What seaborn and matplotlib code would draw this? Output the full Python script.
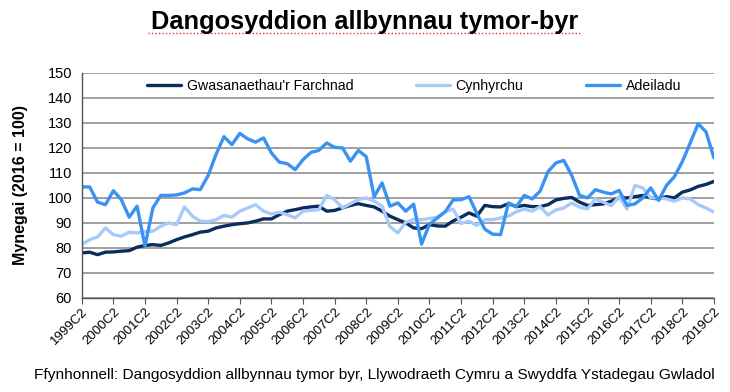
import numpy as np
import pandas as pd
import seaborn as sns
import matplotlib.pyplot as plt
from matplotlib.lines import Line2D

# Chwarteri 1999C2 - 2019C2
chwarteri = []
for b in range(1999, 2020):
    for c in range(1, 5):
        chwarteri.append(f"{b}C{c}")
chwarteri = chwarteri[1:-2]  # 1999C2 .. 2019C2

gwasanaethau = [78, 78.3, 77.3, 78.3, 78.4, 78.7, 78.9, 80.3, 81, 81.3,
                81, 82, 83.3, 84.4, 85.3, 86.3, 86.7, 88, 88.7, 89.3,
                89.7, 90, 90.7, 91.6, 91.6, 93.3, 94.7, 95.3, 96, 96.4,
                96.7, 94.7, 95, 96, 97, 97.7, 97, 96.4, 94.7, 92.7,
                91.3, 90, 88, 87.7, 89.3, 88.8, 88.7, 90.8, 92.3, 94,
                92.7, 97, 96.5, 96.4, 97.7, 96.5, 97, 96.5, 96.5, 97.3,
                99.2, 99.8, 100.2, 98.3, 97, 97.3, 97.6, 98.7, 100, 100,
                100.5, 101, 100, 99.6, 100.5, 100, 102.3, 103.2, 104.6, 105.4,
                106.6]
cynhyrchu = [81.3, 83.3, 84.4, 88, 85.3, 84.7, 86.3, 86, 86.5, 86.7,
             88.7, 90, 89.3, 96.4, 92.7, 90.7, 90.5, 91.3, 93, 92.3,
             94.7, 96, 97.3, 94.7, 93.6, 94.3, 93.3, 92, 94.7, 95,
             95.3, 101, 99.3, 96, 97.7, 99.3, 100, 98.7, 96.7, 88.5,
             86, 90.3, 91.3, 91.3, 91.8, 92.3, 94.5, 95.5, 89.8, 90.7,
             89, 91.3, 91.3, 92, 92.7, 94.5, 95.5, 94.7, 96.5, 93.2,
             95.2, 96, 98, 96.3, 95.6, 99.6, 98.3, 96.9, 100.5, 95.6,
             105, 104, 100, 100, 99.6, 98.7, 100, 99.6, 97.3, 96,
             94.3]
adeiladu = [104.4, 104.4, 98.3, 97.3, 102.9, 99.3, 92.3, 96.7, 80.7, 96,
            101, 101, 101.2, 102, 103.6, 103.3, 109, 117.5, 124.5, 121.3,
            125.8, 123.6, 122.3, 124, 118, 114.3, 113.7, 111.3, 115.3, 118.2,
            119, 122, 120.2, 120, 114.7, 119, 116.5, 100.5, 106, 96.7,
            98, 94.7, 97.5, 81.5, 89.5, 92, 94.5, 99.2, 99.3, 100.5,
            93.8, 87.5, 85.5, 85.3, 98, 96.5, 101, 99.6, 102.7, 110.5,
            114, 115, 109, 101, 100, 103.3, 102.3, 101.6, 103, 97,
            97.6, 100, 104, 99, 105, 108.5, 114.5, 122, 129.7, 126.4,
            116]

cyfresi = ["Gwasanaethau'r Farchnad", "Cynhyrchu", "Adeiladu"]
lliwiau = ["#0B2D5E", "#A6CBFA", "#3A92F2"]

df = pd.DataFrame({
    "x": list(range(len(chwarteri))) * 3,
    "gwerth": gwasanaethau + cynhyrchu + adeiladu,
    "cyfres": [cyfresi[0]] * len(gwasanaethau) + [cyfresi[1]] * len(cynhyrchu)
              + [cyfresi[2]] * len(adeiladu),
})

sns.set_style("white")
plt.rcParams["font.family"] = ["Liberation Sans", "DejaVu Sans"]
plt.rcParams["text.color"] = "black"
plt.rcParams["axes.labelcolor"] = "black"
plt.rcParams["xtick.color"] = "black"
plt.rcParams["ytick.color"] = "black"

fig = plt.figure(figsize=(7.3, 3.92), dpi=100)
ax = fig.add_axes([0.112, 0.24, 0.866, 0.574])

for y in range(60, 160, 10):
    ax.axhline(y, color="#999999", lw=1.3, zorder=0)

sns.lineplot(data=df, x="x", y="gwerth", hue="cyfres", palette=lliwiau,
             hue_order=cyfresi, linewidth=2.4, ax=ax, legend=True)

ax.set_xlim(0, len(chwarteri) - 1)
ax.set_ylim(60, 150)
ax.set_yticks(range(60, 160, 10))
ax.set_xticks(range(0, len(chwarteri), 4))
ax.set_xticklabels(chwarteri[::4], rotation=45, ha="right",
                   rotation_mode="anchor", fontsize=9.5)
ax.tick_params(axis="y", labelsize=10.5, length=4, color="#555555", pad=3)
ax.tick_params(axis="x", length=4, color="#555555", direction="out",
               bottom=True, pad=2)
ax.set_xlabel("")
ax.set_ylabel("Mynegai (2016 = 100)", fontsize=11.5, fontweight="bold",
              labelpad=4)
ax.yaxis.set_label_coords(-0.085, 0.5)

for s in ["top", "right"]:
    ax.spines[s].set_visible(False)
for s in ["left", "bottom"]:
    ax.spines[s].set_color("#555555")
    ax.spines[s].set_linewidth(1.0)

ax.legend(loc="center", bbox_to_anchor=(0.526, 0.94), ncol=3,
          frameon=False, fontsize=10.2, handlelength=2.4, handletextpad=0.4,
          columnspacing=4.4)

fig.text(0.5, 0.945, "Dangosyddion allbynnau tymor-byr", ha="center",
         va="center", fontsize=18.3, fontweight="bold")
# rhes goch danlinellu (fel yn y ddelwedd wreiddiol)
fig.add_artist(Line2D([148 / 730, 580 / 730], [1 - 33 / 392, 1 - 33 / 392],
                      color="#E03030", lw=1.0, ls=(0, (1, 1.5))))
fig.text(0.513, 0.043,
         "Ffynhonnell: Dangosyddion allbynnau tymor byr, Llywodraeth Cymru "
         "a Swyddfa Ystadegau Gwladol",
         ha="center", va="center", fontsize=11.1)

fig.savefig("out.png", dpi=100)
